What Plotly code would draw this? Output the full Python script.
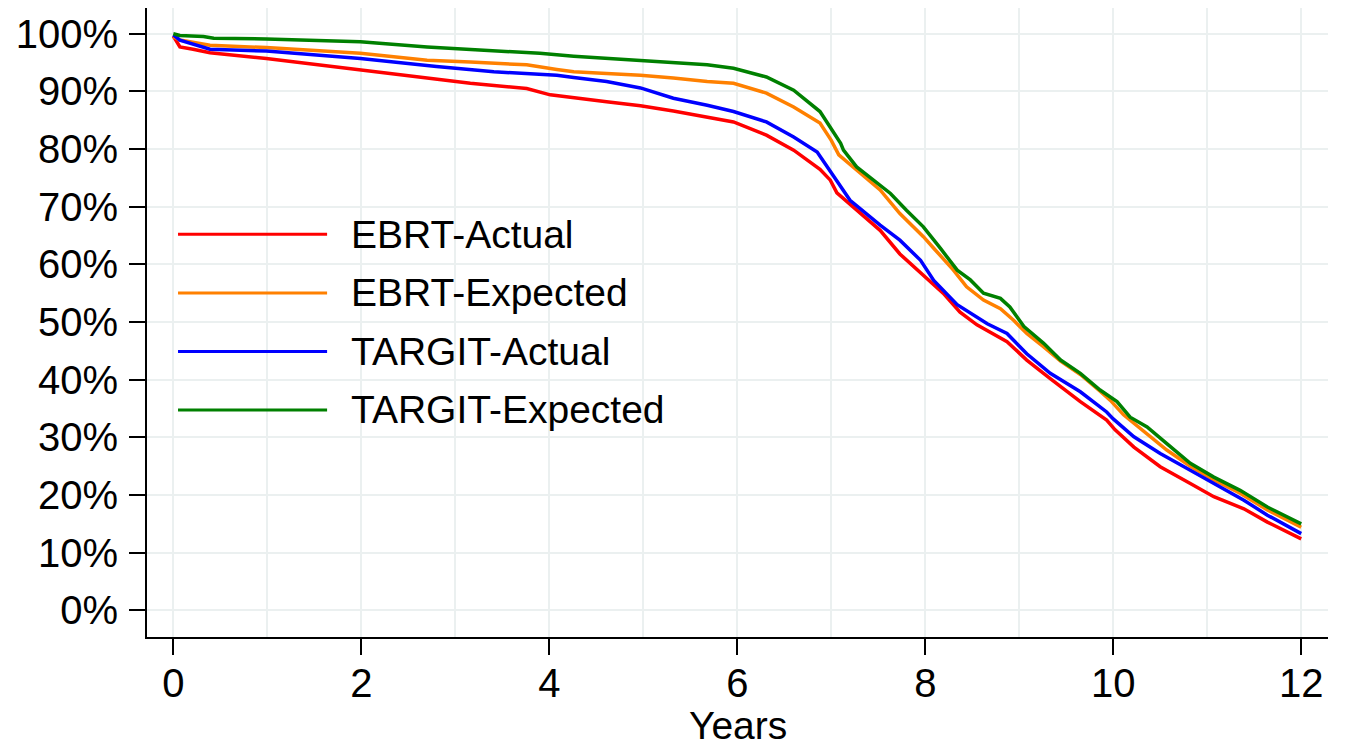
import plotly.graph_objects as go

# Survival curves (percent surviving) by years of follow-up
ebrt_actual_x = [0, 0.07, 0.21, 0.39, 0.99, 1.63, 1.99, 2.70, 3.16, 3.76, 4.01, 4.61, 4.97, 5.32,
                 5.68, 5.96, 6.31, 6.60, 6.88, 6.99, 7.06, 7.31, 7.52, 7.73, 7.98, 8.19, 8.37, 8.55,
                 8.87, 9.08, 9.33, 9.65, 9.93, 10.02, 10.22, 10.50, 10.82, 11.07, 11.39, 11.64, 12.0]
ebrt_actual_y = [99.6, 97.7, 97.3, 96.7, 95.7, 94.4, 93.7, 92.3, 91.4, 90.5, 89.4, 88.2, 87.5, 86.6,
                 85.5, 84.7, 82.4, 79.8, 76.5, 74.6, 72.4, 68.9, 65.9, 61.8, 58.0, 55.0, 51.7, 49.5,
                 46.6, 43.4, 40.2, 36.2, 33.0, 31.3, 28.3, 24.9, 22.0, 19.7, 17.6, 15.3, 12.4]

ebrt_expected_x = [0, 0.07, 0.39, 0.99, 1.99, 2.70, 3.16, 3.76, 4.08, 4.26, 4.61, 4.97, 5.32, 5.68,
                   5.96, 6.31, 6.60, 6.88, 7.00, 7.08, 7.31, 7.52, 7.73, 7.98, 8.09, 8.30, 8.44, 8.62,
                   8.80, 8.94, 9.08, 9.26, 9.44, 9.65, 9.86, 9.97, 10.11, 10.36, 10.57, 10.82, 11.07,
                   11.35, 11.64, 12.0]
ebrt_expected_y = [99.5, 98.9, 98.0, 97.6, 96.6, 95.4, 95.1, 94.6, 93.8, 93.4, 93.1, 92.8, 92.3, 91.7,
                   91.4, 89.7, 87.3, 84.5, 81.5, 79.0, 75.8, 72.9, 68.8, 64.8, 62.8, 59.0, 56.1, 53.8,
                   52.3, 50.3, 48.0, 45.7, 43.2, 40.9, 38.0, 36.4, 33.9, 30.6, 27.8, 25.0, 22.6,
                   20.3, 17.4, 14.4]

targit_actual_x = [0, 0.07, 0.39, 0.99, 1.99, 2.80, 3.41, 4.08, 4.26, 4.61, 4.97, 5.32, 5.68, 5.96,
                   6.31, 6.60, 6.85, 7.02, 7.20, 7.52, 7.73, 7.95, 8.09, 8.34, 8.66, 8.87, 9.08, 9.33,
                   9.65, 9.93, 10.0, 10.22, 10.50, 10.82, 11.07, 11.39, 11.64, 12.0]
targit_actual_y = [99.8, 98.9, 97.3, 97.0, 95.7, 94.3, 93.4, 92.8, 92.4, 91.7, 90.6, 88.8, 87.6, 86.5,
                   84.7, 82.1, 79.5, 75.5, 71.1, 66.8, 64.2, 60.7, 57.2, 53.0, 49.7, 48.0, 44.5, 41.1,
                   37.9, 34.4, 33.2, 30.1, 27.2, 24.3, 22.0, 19.1, 16.5, 13.3]

targit_expected_x = [0, 0.07, 0.32, 0.43, 0.99, 1.35, 1.99, 2.70, 3.23, 3.90, 4.26, 4.61, 4.97, 5.32,
                     5.68, 5.96, 6.31, 6.60, 6.88, 7.10, 7.13, 7.27, 7.45, 7.63, 7.80, 7.98, 8.16, 8.34,
                     8.48, 8.62, 8.80, 8.90, 9.05, 9.26, 9.44, 9.65, 9.86, 10.04, 10.18, 10.36, 10.57,
                     10.82, 11.07, 11.35, 11.64, 12.0]
targit_expected_y = [100.0, 99.7, 99.5, 99.2, 99.1, 98.9, 98.6, 97.7, 97.2, 96.6, 96.1, 95.7, 95.3, 95.0,
                     94.6, 94.0, 92.5, 90.2, 86.5, 81.0, 79.8, 76.9, 74.6, 72.3, 69.4, 66.5, 62.8, 59.0,
                     57.3, 55.0, 54.1, 52.6, 49.2, 46.3, 43.4, 41.1, 38.2, 36.2, 33.5, 31.8, 28.9,
                     25.5, 23.1, 20.8, 17.9, 15.0]

series_names = ["EBRT-Actual", "EBRT-Expected", "TARGIT-Actual", "TARGIT-Expected"]
series_colors = ["#ff0000", "#ff8000", "#0000ff", "#008000"]
series_x = [ebrt_actual_x, ebrt_expected_x, targit_actual_x, targit_expected_x]
series_y = [ebrt_actual_y, ebrt_expected_y, targit_actual_y, targit_expected_y]

x_ticks = [0, 2, 4, 6, 8, 10, 12]
y_ticks = [0, 10, 20, 30, 40, 50, 60, 70, 80, 90, 100]
y_tick_labels = [f"{v}%" for v in y_ticks]
x_title = "Years"

FONT = "Liberation Sans, Arial, Helvetica, sans-serif"
GRID = "#ebf0f0"
PLOT_H = 746 - 8 - 109  # plot-area height in pixels

fig = go.Figure()
for name, color, xs, ys in zip(series_names, series_colors, series_x, series_y):
    fig.add_trace(go.Scatter(x=xs, y=ys, mode="lines", name=name,
                             line=dict(color=color, width=3.5), showlegend=False))

# Key drawn inside the plot area with long line samples
key_top = 65.2
key_step = 10.15
for i, (name, color) in enumerate(zip(series_names, series_colors)):
    yk = key_top - i * key_step
    fig.add_shape(type="line", xref="x", yref="y", x0=0.05, x1=1.636, y0=yk, y1=yk,
                  line=dict(color=color, width=3))
    fig.add_annotation(xref="x", yref="y", x=1.87, y=yk, text=name, showarrow=False,
                       xanchor="left", yanchor="middle",
                       font=dict(family=FONT, size=39, color="black"))

# x-axis title placed below the tick labels
fig.add_annotation(xref="paper", yref="paper", x=0.5, y=-(725 - 637) / PLOT_H,
                   text=x_title, showarrow=False, xanchor="center", yanchor="middle",
                   font=dict(family=FONT, size=39, color="black"))

fig.update_layout(
    width=1350, height=746,
    margin=dict(l=147, r=22, t=8, b=109),
    paper_bgcolor="white", plot_bgcolor="white",
    font=dict(family=FONT, size=40, color="black"),
)
fig.update_xaxes(
    automargin=False,
    range=[-0.28, 12.285], tickvals=x_ticks, ticks="outside", ticklen=16, tickwidth=2,
    tickcolor="black", showline=True, linecolor="black", linewidth=2,
    showgrid=True, gridcolor=GRID, gridwidth=2, zeroline=False,
    minor=dict(dtick=1, tick0=0, showgrid=True, gridcolor=GRID, gridwidth=2, ticks=""),
    tickfont=dict(family=FONT, size=40), ticklabelstandoff=-6,
)
fig.update_yaxes(
    automargin=False,
    range=[-4.63, 104.46], tickmode="array", tickvals=y_ticks, ticktext=y_tick_labels,
    ticks="outside", ticklen=16,
    tickwidth=2, tickcolor="black", showline=True, linecolor="black", linewidth=2,
    showgrid=True, gridcolor=GRID, gridwidth=2, zeroline=False,
    tickfont=dict(family=FONT, size=40), ticklabelstandoff=3,
)

fig.write_html("out.html")
